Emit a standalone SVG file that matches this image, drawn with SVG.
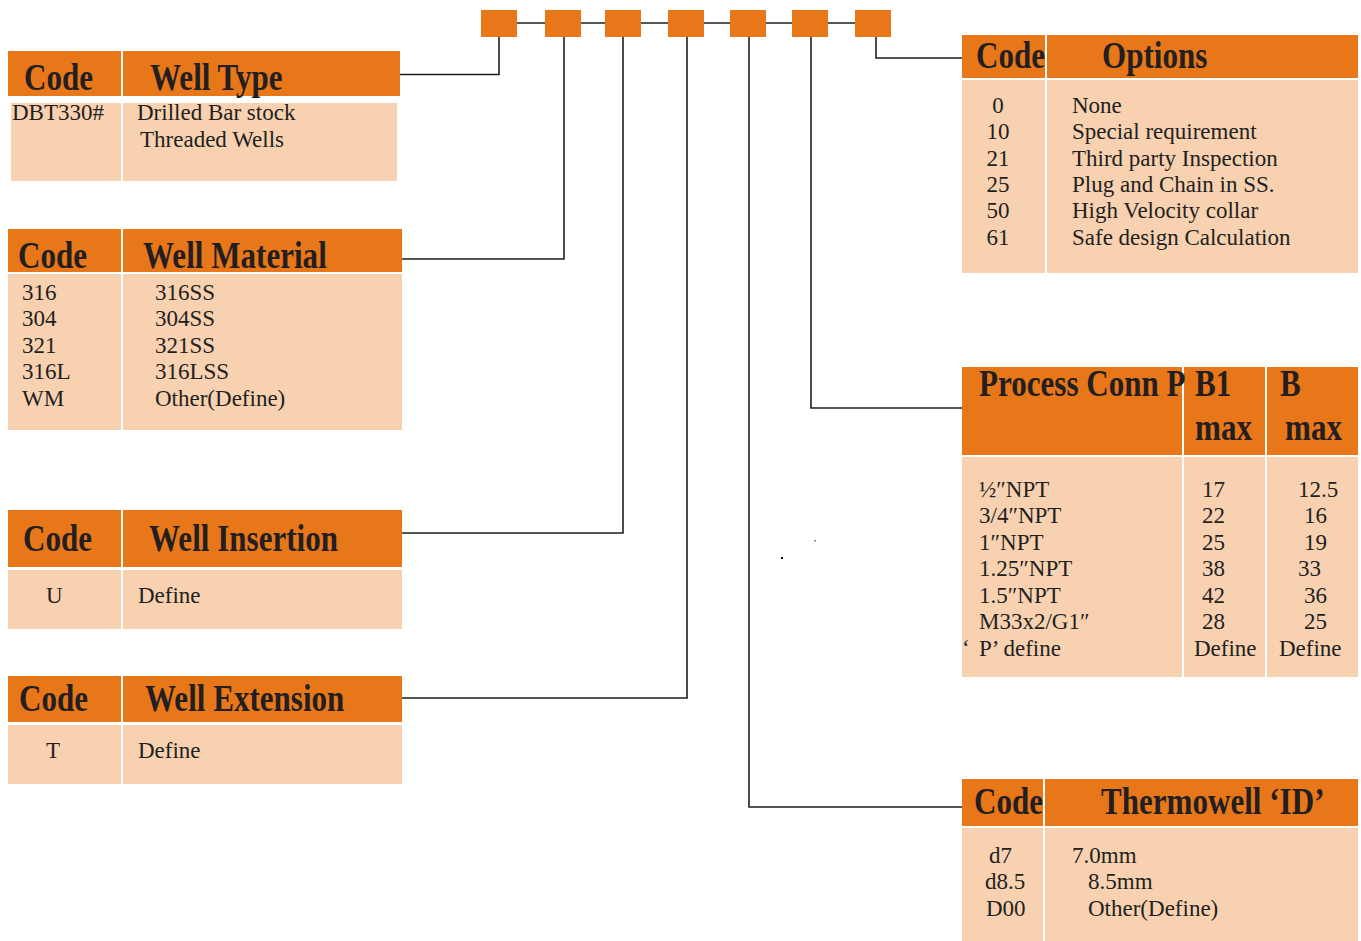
<svg xmlns="http://www.w3.org/2000/svg" width="1361" height="941" viewBox="0 0 1361 941">
<style>
.hd{fill:#E8771A}
.bd{fill:#F7D1B0}
.sep{stroke:#FFFFFF;stroke-width:2}
.h{font-family:"Liberation Serif",serif;font-weight:bold;font-size:37px;fill:#231F20}
.t{font-family:"Liberation Serif",serif;font-size:23px;fill:#231F20}
.c{fill:none;stroke:#1E1E1E;stroke-width:1.6}
.box{fill:#E8771A}
</style>
<rect width="1361" height="941" fill="#FFFFFF"/>

<g id="connectors">
<line class="c" x1="517" y1="23" x2="855" y2="23"/>
<polyline class="c" points="499,37 499,74.5 400,74.5"/>
<polyline class="c" points="564,37 564,259 402,259"/>
<polyline class="c" points="623,37 623,533 402,533"/>
<polyline class="c" points="687,37 687,698 402,698"/>
<polyline class="c" points="749,37 749,807 962,807"/>
<polyline class="c" points="811,37 811,408 962,408"/>
<polyline class="c" points="876,37 876,58 962,58"/>
</g>

<g id="code-boxes">
<rect class="box" x="481" y="10" width="36" height="27"/>
<rect class="box" x="545" y="10" width="36" height="27"/>
<rect class="box" x="605" y="10" width="36" height="27"/>
<rect class="box" x="668" y="10" width="36" height="27"/>
<rect class="box" x="730" y="10" width="36" height="27"/>
<rect class="box" x="792" y="10" width="36" height="27"/>
<rect class="box" x="855" y="10" width="36" height="27"/>
</g>

<g id="well-type">
<rect class="hd" x="8" y="51" width="392" height="45"/>
<rect class="bd" x="11" y="103" width="386" height="78"/>
<line class="sep" x1="122" y1="49" x2="122" y2="182"/>
<text class="h" transform="translate(24,90) scale(0.84,1)">Code</text>
<text class="h" transform="translate(150,90) scale(0.84,1)">Well Type</text>
<text class="t" x="12" y="120">DBT330#</text>
<text class="t" x="137" y="120">Drilled Bar stock</text>
<text class="t" x="140" y="147">Threaded Wells</text>
</g>

<g id="well-material">
<rect class="hd" x="8" y="229" width="394" height="43"/>
<rect class="bd" x="8" y="274" width="394" height="156"/>
<line class="sep" x1="122" y1="227" x2="122" y2="431"/>
<text class="h" transform="translate(18,268) scale(0.84,1)">Code</text>
<text class="h" transform="translate(143,268) scale(0.84,1)">Well Material</text>
<text class="t" x="22" y="300">316</text>
<text class="t" x="22" y="326">304</text>
<text class="t" x="22" y="353">321</text>
<text class="t" x="22" y="379">316L</text>
<text class="t" x="22" y="406">WM</text>
<text class="t" x="155" y="300">316SS</text>
<text class="t" x="155" y="326">304SS</text>
<text class="t" x="155" y="353">321SS</text>
<text class="t" x="155" y="379">316LSS</text>
<text class="t" x="155" y="406">Other(Define)</text>
</g>

<g id="well-insertion">
<rect class="hd" x="8" y="510" width="394" height="57"/>
<rect class="bd" x="8" y="570" width="394" height="59"/>
<line class="sep" x1="122" y1="508" x2="122" y2="630"/>
<text class="h" transform="translate(23,551) scale(0.84,1)">Code</text>
<text class="h" transform="translate(149,551) scale(0.84,1)">Well Insertion</text>
<text class="t" x="46" y="603">U</text>
<text class="t" x="138" y="603">Define</text>
</g>

<g id="well-extension">
<rect class="hd" x="8" y="676" width="394" height="46"/>
<rect class="bd" x="8" y="725" width="394" height="59"/>
<line class="sep" x1="122" y1="674" x2="122" y2="785"/>
<text class="h" transform="translate(19,711) scale(0.84,1)">Code</text>
<text class="h" transform="translate(145,711) scale(0.84,1)">Well Extension</text>
<text class="t" x="46" y="758">T</text>
<text class="t" x="138" y="758">Define</text>
</g>

<g id="options">
<rect class="hd" x="962" y="35" width="396" height="43"/>
<rect class="bd" x="962" y="80" width="396" height="193"/>
<line class="sep" x1="1046" y1="33" x2="1046" y2="274"/>
<text class="h" transform="translate(976,68) scale(0.84,1)">Code</text>
<text class="h" transform="translate(1102,68) scale(0.84,1)">Options</text>
<text class="t" x="998" y="113" text-anchor="middle">0</text>
<text class="t" x="998" y="139" text-anchor="middle">10</text>
<text class="t" x="998" y="166" text-anchor="middle">21</text>
<text class="t" x="998" y="192" text-anchor="middle">25</text>
<text class="t" x="998" y="218" text-anchor="middle">50</text>
<text class="t" x="998" y="245" text-anchor="middle">61</text>
<text class="t" x="1072" y="113">None</text>
<text class="t" x="1072" y="139">Special requirement</text>
<text class="t" x="1072" y="166">Third party Inspection</text>
<text class="t" x="1072" y="192">Plug and Chain in SS.</text>
<text class="t" x="1072" y="218">High Velocity collar</text>
<text class="t" x="1072" y="245">Safe design Calculation</text>
</g>

<g id="process-conn">
<rect class="hd" x="962" y="367" width="396" height="88"/>
<rect class="bd" x="962" y="457" width="396" height="220"/>
<line class="sep" x1="1183" y1="365" x2="1183" y2="678"/>
<line class="sep" x1="1266" y1="365" x2="1266" y2="678"/>
<text class="h" transform="translate(979,396) scale(0.84,1)">Process Conn P</text>
<text class="h" transform="translate(1195,396) scale(0.84,1)">B1</text>
<text class="h" transform="translate(1195,440) scale(0.84,1)">max</text>
<text class="h" transform="translate(1280,396) scale(0.84,1)">B</text>
<text class="h" transform="translate(1285,440) scale(0.84,1)">max</text>
<text class="t" x="979" y="497">½″NPT</text>
<text class="t" x="979" y="523">3/4″NPT</text>
<text class="t" x="979" y="550">1″NPT</text>
<text class="t" x="979" y="576">1.25″NPT</text>
<text class="t" x="979" y="603">1.5″NPT</text>
<text class="t" x="979" y="629">M33x2/G1″</text>
<text class="t" x="962" y="656">‘</text>
<text class="t" x="979" y="656">P’ define</text>
<text class="t" x="1202" y="497">17</text>
<text class="t" x="1202" y="523">22</text>
<text class="t" x="1202" y="550">25</text>
<text class="t" x="1202" y="576">38</text>
<text class="t" x="1202" y="603">42</text>
<text class="t" x="1202" y="629">28</text>
<text class="t" x="1194" y="656">Define</text>
<text class="t" x="1298" y="497">12.5</text>
<text class="t" x="1304" y="523">16</text>
<text class="t" x="1304" y="550">19</text>
<text class="t" x="1298" y="576">33</text>
<text class="t" x="1304" y="603">36</text>
<text class="t" x="1304" y="629">25</text>
<text class="t" x="1279" y="656">Define</text>
</g>

<g id="thermowell-id">
<rect class="hd" x="962" y="779" width="396" height="47"/>
<rect class="bd" x="962" y="828" width="396" height="113"/>
<line class="sep" x1="1044" y1="777" x2="1044" y2="941"/>
<text class="h" transform="translate(974,814) scale(0.84,1)">Code</text>
<text class="h" transform="translate(1101,814) scale(0.84,1)">Thermowell ‘ID’</text>
<text class="t" x="989" y="863">d7</text>
<text class="t" x="985" y="889">d8.5</text>
<text class="t" x="986" y="916">D00</text>
<text class="t" x="1072" y="863">7.0mm</text>
<text class="t" x="1088" y="889">8.5mm</text>
<text class="t" x="1088" y="916">Other(Define)</text>
</g>

<rect x="781" y="557" width="2" height="2" fill="#000000"/>
<rect x="814" y="540" width="2" height="1.5" fill="#888888"/>
</svg>
